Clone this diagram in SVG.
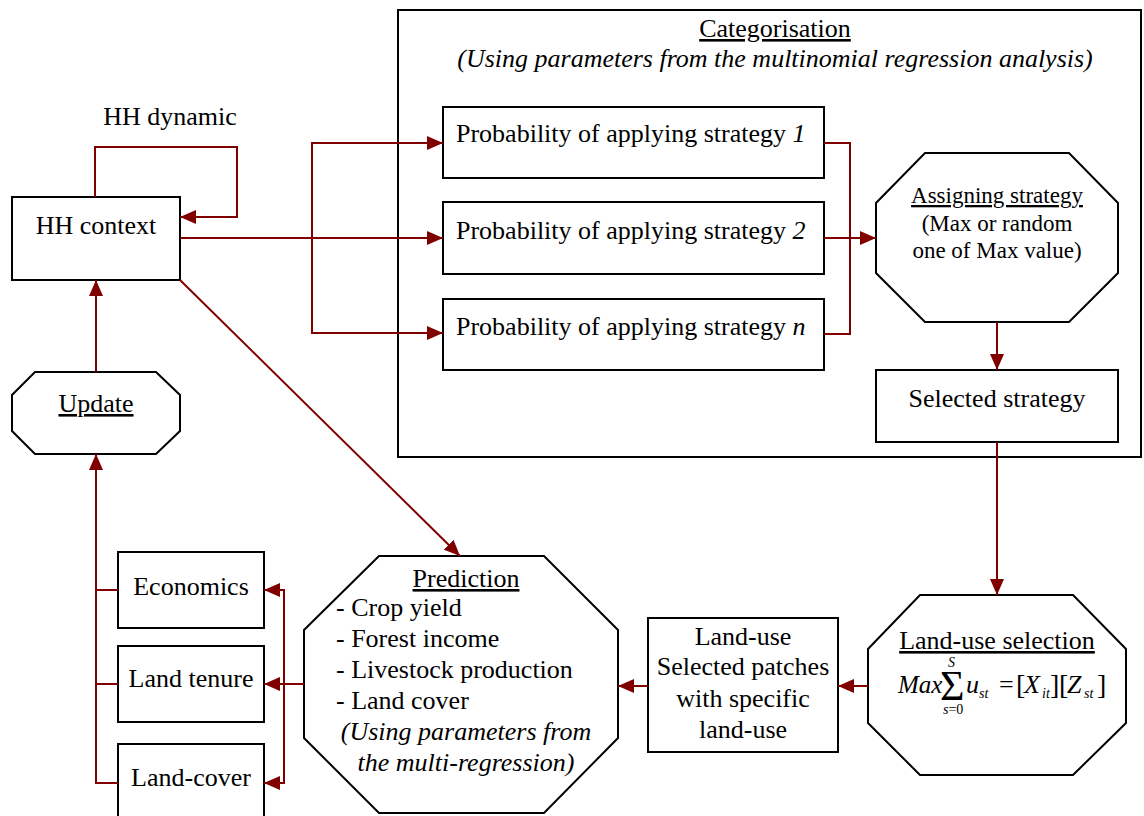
<svg xmlns="http://www.w3.org/2000/svg" width="1144" height="816" viewBox="0 0 1144 816">
<defs>
<style>
text{font-family:"Liberation Serif","Times New Roman",serif;font-size:26px;fill:#000}
.c{text-anchor:middle}
.i{font-style:italic}
.u{text-decoration:underline}
.box{fill:#fff;stroke:#000;stroke-width:2}
.ln{fill:none;stroke:#800000;stroke-width:2}
.s{font-size:23px}
.sub{font-size:14px;font-style:italic}
.br{font-size:28px}
</style>
<marker id="ah" markerUnits="userSpaceOnUse" markerWidth="16" markerHeight="14" refX="16" refY="7" orient="auto">
<path d="M0,0 L16,7 L0,14 z" fill="#800000"/>
</marker>
</defs>
<rect x="0" y="0" width="1144" height="816" fill="#fff"/>

<g id="categorisation">
<rect class="box" x="398" y="10" width="743" height="447"/>
<text class="c u" x="775" y="37">Categorisation</text>
<text class="c i" x="775" y="67">(Using parameters from the multinomial regression analysis)</text>
</g>

<g id="hh-context">
<rect class="box" x="12" y="197" width="168" height="83"/>
<text class="c" x="96" y="234">HH context</text>
</g>
<g id="hh-dynamic-label">
<text class="c" x="170" y="125">HH dynamic</text>
</g>

<g id="prob1">
<rect class="box" x="443" y="107" width="381" height="71"/>
<text x="456" y="142">Probability of applying strategy <tspan class="i">1</tspan></text>
</g>
<g id="prob2">
<rect class="box" x="443" y="202" width="381" height="72"/>
<text x="456" y="239">Probability of applying strategy <tspan class="i">2</tspan></text>
</g>
<g id="probn">
<rect class="box" x="443" y="299" width="381" height="71"/>
<text x="456" y="335">Probability of applying strategy <tspan class="i">n</tspan></text>
</g>

<g id="assigning">
<polygon class="box" points="925,153 1069,153 1118,203 1118,273 1069,322 925,322 876,273 876,203"/>
<text class="c u s" x="997" y="203">Assigning strategy</text>
<text class="c s" x="997" y="231">(Max or random</text>
<text class="c s" x="997" y="258">one of Max value)</text>
</g>

<g id="selected">
<rect class="box" x="876" y="370" width="242" height="72"/>
<text class="c" x="997" y="407">Selected strategy</text>
</g>

<g id="landuse-selection">
<polygon class="box" points="920,595 1073,595 1126,649 1126,723 1073,775 920,775 868,723 868,649"/>
<text class="c u" x="997" y="649">Land-use selection</text>
<text class="i" x="898" y="693" style="font-size:25px">Max</text>
<text x="940" y="700" style="font-size:42px">Σ</text>
<text class="sub" x="948" y="667">S</text>
<text x="943" y="714" style="font-size:14px"><tspan class="i">s</tspan>=0</text>
<text class="i" x="966" y="693">u</text>
<text class="sub" x="979" y="698">st</text>
<text x="999" y="693">=</text>
<text class="br" x="1016" y="694">[</text>
<text class="i" x="1024" y="693">X</text>
<text class="sub" x="1042" y="698">it</text>
<text class="br" x="1050" y="694">]</text>
<text class="br" x="1059" y="694">[</text>
<text class="i" x="1067" y="693">Z</text>
<text class="sub" x="1084" y="698">st</text>
<text class="br" x="1097" y="694">]</text>
</g>

<g id="landuse">
<rect class="box" x="648" y="618" width="190" height="134"/>
<text class="c" x="743" y="645">Land-use</text>
<text class="c" x="743" y="675">Selected patches</text>
<text class="c" x="743" y="707">with specific</text>
<text class="c" x="743" y="738">land-use</text>
</g>

<g id="prediction">
<polygon class="box" points="379,556 544,556 618,630 618,738 544,813 379,813 304,738 304,630"/>
<text class="c u" x="466" y="587">Prediction</text>
<text x="336" y="616">- Crop yield</text>
<text x="336" y="647">- Forest income</text>
<text x="336" y="678">- Livestock production</text>
<text x="336" y="709">- Land cover</text>
<text class="c i" x="466" y="740">(Using parameters from</text>
<text class="c i" x="466" y="771">the multi-regression)</text>
</g>

<g id="economics">
<rect class="box" x="118" y="552" width="146" height="76"/>
<text class="c" x="191" y="595">Economics</text>
</g>
<g id="land-tenure">
<rect class="box" x="118" y="646" width="146" height="76"/>
<text class="c" x="191" y="687">Land tenure</text>
</g>
<g id="land-cover">
<rect class="box" x="118" y="744" width="146" height="90"/>
<text class="c" x="191" y="786">Land-cover</text>
</g>

<g id="update">
<polygon class="box" points="35,372 156,372 180,395 180,431 156,454 35,454 12,431 12,395"/>
<text class="c u" x="96" y="412">Update</text>
</g>

<g id="connectors">
<path class="ln" d="M95,197 V147 H237 V217 H180" marker-end="url(#ah)"/>
<path class="ln" d="M180,238 H443" marker-end="url(#ah)"/>
<path class="ln" d="M312,238 V143 H443" marker-end="url(#ah)"/>
<path class="ln" d="M312,238 V333 H443" marker-end="url(#ah)"/>
<path class="ln" d="M824,143 H850 V334 H824"/>
<path class="ln" d="M824,238 H876" marker-end="url(#ah)"/>
<path class="ln" d="M997,322 V370" marker-end="url(#ah)"/>
<path class="ln" d="M997,442 V595" marker-end="url(#ah)"/>
<path class="ln" d="M868,686 H838" marker-end="url(#ah)"/>
<path class="ln" d="M648,686 H618" marker-end="url(#ah)"/>
<path class="ln" d="M304,684 H264" marker-end="url(#ah)"/>
<path class="ln" d="M284,684 V590 H264" marker-end="url(#ah)"/>
<path class="ln" d="M284,684 V783 H264" marker-end="url(#ah)"/>
<path class="ln" d="M118,590 H96"/>
<path class="ln" d="M118,684 H96"/>
<path class="ln" d="M118,783 H96 V454" marker-end="url(#ah)"/>
<path class="ln" d="M96,372 V280" marker-end="url(#ah)"/>
<path class="ln" d="M180,280 L460,556" marker-end="url(#ah)"/>
</g>
</svg>
